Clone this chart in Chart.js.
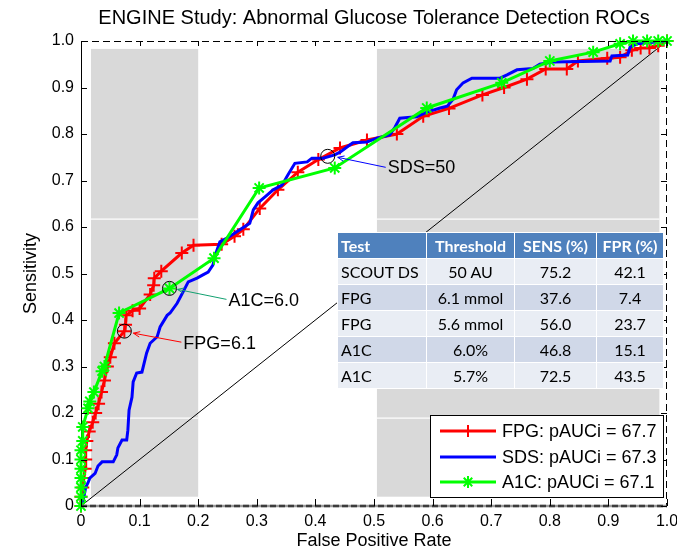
<!DOCTYPE html>
<html>
<head>
<meta charset="utf-8">
<title>ENGINE Study ROC</title>
<script src="https://cdn.jsdelivr.net/npm/chart.js@4.4.1/dist/chart.umd.min.js"></script>
<style>
  html, body { margin: 0; padding: 0; background: #fff; }
  #wrap { position: relative; width: 677px; height: 553px; }
  #rocTable {
    position: absolute; left: 337px; top: 232px;
    border-collapse: collapse;
    font-family: Lato, "Open Sans", sans-serif; font-size: 16px; color: #000;
  }
  #rocTable th, #rocTable td {
    border: 1px solid #fff; padding: 0 3px; height: 25px; white-space: nowrap;
    text-align: center;
  }
  #rocTable th { background: #4f81bd; color: #fff; font-weight: bold; }
  #rocTable th:first-child, #rocTable td:first-child { text-align: left; }
  #rocTable tr:nth-child(odd) td { background: #d0d8e8; }
  #rocTable tr:nth-child(even) td { background: #e9edf4; }
</style>
</head>
<body>
<div id="wrap">
  <canvas id="roc" width="677" height="553"></canvas>
  <table id="rocTable"></table>
</div>
<script>
// datos (FPR, sensibilidad)
const fpgX = [0, 0, 0.003, 0.005, 0.007, 0.008, 0.008, 0.01, 0.014, 0.02, 0.025, 0.03, 0.035, 0.04, 0.045, 0.05, 0.057, 0.074, 0.076, 0.077, 0.088, 0.1, 0.118, 0.124, 0.125, 0.137, 0.172, 0.192, 0.24, 0.262, 0.277, 0.305, 0.336, 0.37, 0.405, 0.442, 0.488, 0.539, 0.584, 0.628, 0.685, 0.722, 0.761, 0.793, 0.829, 0.848, 0.898, 0.92, 0.94, 0.955, 0.97, 0.985, 1];
const fpgY = [0, 0.02, 0.04, 0.06, 0.08, 0.10, 0.12, 0.14, 0.16, 0.18, 0.2, 0.22, 0.245, 0.27, 0.30, 0.32, 0.35, 0.376, 0.39, 0.41, 0.42, 0.425, 0.455, 0.475, 0.49, 0.505, 0.544, 0.561, 0.563, 0.58, 0.595, 0.64, 0.68, 0.718, 0.745, 0.77, 0.787, 0.80, 0.838, 0.855, 0.884, 0.90, 0.918, 0.94, 0.94, 0.957, 0.963, 0.965, 0.98, 0.985, 0.985, 0.99, 1];

const sdsX = [0, 0.005, 0.008, 0.012, 0.015, 0.024, 0.029, 0.036, 0.055, 0.061, 0.063, 0.07, 0.078, 0.08, 0.082, 0.087, 0.089, 0.095, 0.104, 0.112, 0.118, 0.13, 0.135, 0.147, 0.152, 0.164, 0.174, 0.183, 0.198, 0.208, 0.217, 0.225, 0.232, 0.237, 0.249, 0.271, 0.288, 0.294, 0.302, 0.314, 0.328, 0.343, 0.353, 0.365, 0.386, 0.394, 0.413, 0.433, 0.442, 0.454, 0.464, 0.488, 0.505, 0.527, 0.536, 0.544, 0.573, 0.59, 0.613, 0.625, 0.635, 0.641, 0.652, 0.667, 0.715, 0.727, 0.744, 0.771, 0.783, 0.805, 0.903, 0.906, 0.933, 0.937, 0.949, 1];
const sdsY = [0, 0.02, 0.04, 0.05, 0.06, 0.07, 0.086, 0.095, 0.095, 0.11, 0.125, 0.142, 0.142, 0.163, 0.206, 0.234, 0.267, 0.286, 0.288, 0.329, 0.35, 0.364, 0.385, 0.41, 0.415, 0.436, 0.46, 0.482, 0.49, 0.497, 0.503, 0.518, 0.55, 0.568, 0.576, 0.594, 0.608, 0.637, 0.652, 0.665, 0.68, 0.69, 0.712, 0.737, 0.74, 0.748, 0.748, 0.755, 0.761, 0.772, 0.781, 0.783, 0.791, 0.798, 0.815, 0.834, 0.837, 0.847, 0.856, 0.86, 0.875, 0.895, 0.91, 0.92, 0.92, 0.927, 0.938, 0.941, 0.95, 0.955, 0.957, 0.968, 0.97, 0.987, 0.994, 1];

const a1cX = [0, 0, 0, 0, 0, 0, 0, 0.003, 0.003, 0.012, 0.015, 0.022, 0.036, 0.04, 0.065, 0.151, 0.227, 0.304, 0.433, 0.59, 0.718, 0.8, 0.874, 0.92, 0.942, 0.966, 0.985, 1];
const a1cY = [0, 0.02, 0.04, 0.06, 0.08, 0.10, 0.12, 0.14, 0.17, 0.21, 0.225, 0.245, 0.29, 0.30, 0.415, 0.468, 0.533, 0.684, 0.727, 0.856, 0.91, 0.957, 0.976, 0.994, 1, 1, 1, 1];

const diagX = [0, 1];
const diagY = [0, 1];

const legendLabels = ["FPG: pAUCi = 67.7", "SDS: pAUCi = 67.3", "A1C: pAUCi = 67.1"];

// tabla de umbrales
const tableHead = ["Test", "Threshold", "SENS (%)", "FPR (%)"];
const tableTests = ["SCOUT DS", "FPG", "FPG", "A1C", "A1C"];
const tableThresholds = ["50 AU", "6.1 mmol", "5.6 mmol", "6.0%", "5.7%"];
const tableSens = [75.2, 37.6, 56.0, 46.8, 72.5];
const tableFpr = [42.1, 7.4, 23.7, 15.1, 43.5];

// puntos marcados (filas de la tabla) y sus etiquetas
const markRows = [0, 1, 3];
const markLabels = ["SDS=50", "FPG=6.1", "A1C=6.0"];

const xTicks = [0, 0.1, 0.2, 0.3, 0.4, 0.5, 0.6, 0.7, 0.8, 0.9, 1];
const yTicks = [0, 0.1, 0.2, 0.3, 0.4, 0.5, 0.6, 0.7, 0.8, 0.9, 1];

// zonas grises del fondo
const shadeX = [[0.017, 0.2], [0.505, 0.987]];
const shadeY = [0.02, 0.983];
const shadeGaps = [0.19, 0.617];

const FONT = '"Liberation Sans", Arial, sans-serif';

const pts = (xs, ys) => xs.map((v, i) => ({ x: v, y: ys[i] }));

// tabla html
(function buildTable() {
  const t = document.getElementById("rocTable");
  const widths = [82, 81, 75, 60];
  let html = "<tr>" + tableHead.map((h, i) => `<th style="width:${widths[i]}px">${h}</th>`).join("") + "</tr>";
  tableTests.forEach((name, i) => {
    html += `<tr><td>${name}</td><td>${tableThresholds[i]}</td><td>${tableSens[i].toFixed(1)}</td><td>${tableFpr[i].toFixed(1)}</td></tr>`;
  });
  t.innerHTML = html;
})();

function arrow(ctx, x0, y0, x1, y1, color) {
  ctx.strokeStyle = color;
  ctx.lineWidth = 1;
  ctx.beginPath();
  ctx.moveTo(x0, y0);
  ctx.lineTo(x1, y1);
  const a = Math.atan2(y1 - y0, x1 - x0);
  const L = 7;
  ctx.moveTo(x1 - L * Math.cos(a - 0.4), y1 - L * Math.sin(a - 0.4));
  ctx.lineTo(x1, y1);
  ctx.lineTo(x1 - L * Math.cos(a + 0.4), y1 - L * Math.sin(a + 0.4));
  ctx.stroke();
}

function drawMarker(ctx, style, x, y, r, color) {
  ctx.strokeStyle = color;
  ctx.lineWidth = 2;
  ctx.beginPath();
  ctx.moveTo(x - r, y); ctx.lineTo(x + r, y);
  ctx.moveTo(x, y - r); ctx.lineTo(x, y + r);
  if (style === "star") {
    const d = r * Math.SQRT1_2;
    ctx.moveTo(x - d, y - d); ctx.lineTo(x + d, y + d);
    ctx.moveTo(x - d, y + d); ctx.lineTo(x + d, y - d);
  }
  ctx.stroke();
}

const decoPlugin = {
  id: "deco",
  beforeDatasetsDraw(chart) {
    const { ctx, scales: { x, y } } = chart;
    ctx.save();
    const yt = y.getPixelForValue(shadeY[1]);
    const yb = y.getPixelForValue(shadeY[0]);
    shadeX.forEach(([a, b]) => {
      const xa = x.getPixelForValue(a), xb = x.getPixelForValue(b);
      ctx.fillStyle = "#d9d9d9";
      ctx.fillRect(xa, yt, xb - xa, yb - yt);
      ctx.fillStyle = "#ffffff";
      shadeGaps.forEach(g => ctx.fillRect(xa, Math.round(y.getPixelForValue(g)) - 0.5, xb - xa, 1.2));
    });
    ctx.restore();
  },
  afterDatasetsDraw(chart) {
    const { ctx, chartArea: ca, scales: { x, y } } = chart;
    ctx.save();
    // bordes
    ctx.lineWidth = 1;
    ctx.strokeStyle = "#000";
    ctx.setLineDash([7, 4]);
    ctx.beginPath();
    ctx.moveTo(ca.left, ca.top + 0.5); ctx.lineTo(ca.right, ca.top + 0.5);
    ctx.moveTo(ca.right - 0.5, ca.top); ctx.lineTo(ca.right - 0.5, ca.bottom);
    ctx.stroke();
    ctx.setLineDash([]);
    ctx.strokeStyle = "#9a9a9a";
    ctx.lineWidth = 2.5;
    ctx.beginPath();
    ctx.moveTo(ca.left, ca.bottom); ctx.lineTo(ca.right, ca.bottom);
    ctx.stroke();
    ctx.strokeStyle = "#3c3c3c";
    ctx.setLineDash([6, 3]);
    ctx.beginPath();
    ctx.moveTo(ca.left, ca.bottom); ctx.lineTo(ca.right, ca.bottom);
    ctx.stroke();
    ctx.setLineDash([]);

    // ticks hacia adentro
    ctx.strokeStyle = "#000";
    ctx.lineWidth = 1;
    ctx.beginPath();
    x.ticks.forEach(t => {
      const px = Math.round(x.getPixelForValue(t.value)) + 0.5;
      ctx.moveTo(px, ca.bottom); ctx.lineTo(px, ca.bottom - 7);
      ctx.moveTo(px, ca.top); ctx.lineTo(px, ca.top + 5);
    });
    y.ticks.forEach(t => {
      const py = Math.round(y.getPixelForValue(t.value)) + 0.5;
      ctx.moveTo(ca.left, py); ctx.lineTo(ca.left + 6, py);
      ctx.moveTo(ca.right, py); ctx.lineTo(ca.right - 6, py);
    });
    ctx.stroke();

    // anotaciones
    const offs = [
      { tx: 60, ty: 11, ax: 58, ay: 11, hx: 10, hy: 1, color: "#0000ff" },
      { tx: 59, ty: 12, ax: 57, ay: 11, hx: 9, hy: 2, color: "#ff0000" },
      { tx: 59, ty: 12, ax: 57, ay: 11, hx: 8, hy: 1, color: "#12a070" }
    ];
    ctx.font = "18px " + FONT;
    ctx.fillStyle = "#000";
    ctx.textBaseline = "middle";
    ctx.textAlign = "left";
    markRows.forEach((r, i) => {
      const cx = x.getPixelForValue(tableFpr[r] / 100);
      const cy = y.getPixelForValue(tableSens[r] / 100);
      const o = offs[i];
      arrow(ctx, cx + o.ax, cy + o.ay, cx + o.hx, cy + o.hy, o.color);
      ctx.fillText(markLabels[i], cx + o.tx, cy + o.ty + 1);
    });
    ctx.restore();
  },
  afterDraw(chart) {
    const { ctx, chartArea: ca } = chart;
    ctx.save();
    // titulo
    ctx.font = "20px " + FONT;
    ctx.fillStyle = "#000";
    ctx.textAlign = "center";
    ctx.textBaseline = "middle";
    ctx.fillText("ENGINE Study: Abnormal Glucose Tolerance Detection ROCs", (ca.left + ca.right) / 2, 18);

    // leyenda
    const bx = 430.5, by = 415.5, bw = 233, bh = 82;
    ctx.fillStyle = "#fff";
    ctx.fillRect(bx, by, bw, bh);
    ctx.strokeStyle = "#000";
    ctx.lineWidth = 1;
    ctx.strokeRect(bx, by, bw, bh);
    const rowsY = [431, 457, 482];
    const series = chart.data.datasets.slice(1, 4);
    ctx.font = "18px " + FONT;
    ctx.textAlign = "left";
    series.forEach((ds, i) => {
      const yy = rowsY[i];
      ctx.strokeStyle = ds.borderColor;
      ctx.lineWidth = 3;
      ctx.beginPath();
      ctx.moveTo(440, yy); ctx.lineTo(496, yy);
      ctx.stroke();
      if (ds.pointRadius > 0) drawMarker(ctx, ds.pointStyle, 468, yy, 6, ds.borderColor);
      ctx.fillStyle = "#000";
      ctx.fillText(ds.label, 502, yy + 1);
    });
    ctx.restore();
  }
};

new Chart(document.getElementById("roc"), {
  type: "scatter",
  data: {
    datasets: [
      { label: "diag", data: pts(diagX, diagY), showLine: true, borderColor: "#000", borderWidth: 1, pointRadius: 0, order: 5 },
      { label: legendLabels[0], data: pts(fpgX, fpgY), showLine: true, borderColor: "#ff0000", borderWidth: 3,
        pointStyle: "cross", pointRadius: 6.5, pointBorderWidth: 2, pointBorderColor: "#ff0000", order: 4, clip: false },
      { label: legendLabels[1], data: pts(sdsX, sdsY), showLine: true, borderColor: "#0000ff", borderWidth: 3,
        pointRadius: 0, order: 3, clip: false },
      { label: legendLabels[2], data: pts(a1cX, a1cY), showLine: true, borderColor: "#00ff00", borderWidth: 3,
        pointStyle: "star", pointRadius: 6.5, pointBorderWidth: 2, pointBorderColor: "#00ff00", order: 2, clip: false },
      { label: "marks", data: markRows.map(r => ({ x: tableFpr[r] / 100, y: tableSens[r] / 100 })), showLine: false,
        pointStyle: "circle", pointRadius: 7, pointBorderWidth: 1, pointBorderColor: "#000",
        pointBackgroundColor: "rgba(0,0,0,0)", order: 1, clip: false }
    ]
  },
  options: {
    responsive: false,
    animation: false,
    devicePixelRatio: 1,
    layout: { padding: { top: 41, right: 10, left: 0, bottom: 0 } },
    plugins: { legend: { display: false }, tooltip: { enabled: false } },
    elements: { line: { tension: 0 } },
    scales: {
      x: {
        type: "linear", min: 0, max: 1,
        afterBuildTicks: s => { s.ticks = xTicks.map(v => ({ value: v })); },
        afterFit: s => { s.height = 47; s.paddingLeft = 0; s.paddingRight = 0; },
        grid: { display: false, drawTicks: false },
        border: { display: false },
        ticks: { color: "#000", padding: 6, font: { family: FONT, size: 16 }, maxRotation: 0 },
        title: { display: true, text: "False Positive Rate", color: "#000", padding: { top: 0, bottom: 1 },
                 font: { family: FONT, size: 18 } }
      },
      y: {
        type: "linear", min: 0, max: 1,
        afterBuildTicks: s => { s.ticks = yTicks.map(v => ({ value: v })); },
        afterFit: s => { s.width = 81; s.paddingTop = 0; s.paddingBottom = 0; },
        grid: { display: false, drawTicks: false },
        border: { display: true, color: "#000", width: 1 },
        ticks: { color: "#000", padding: 7, font: { family: FONT, size: 16 } },
        title: { display: true, text: "Sensitivity", color: "#000", padding: { top: 20, bottom: 0 },
                 font: { family: FONT, size: 18 } }
      }
    }
  },
  plugins: [decoPlugin]
});
</script>
</body>
</html>
